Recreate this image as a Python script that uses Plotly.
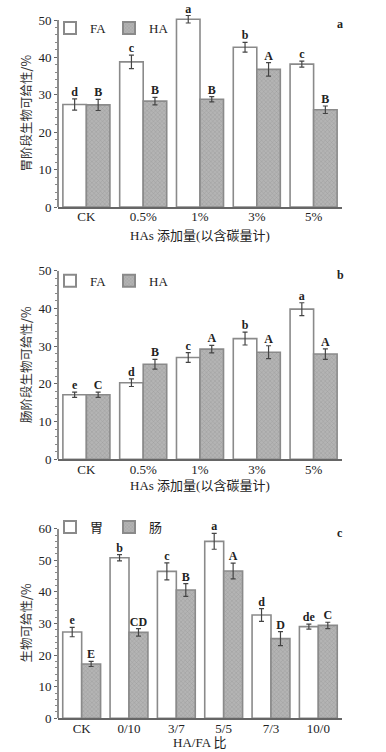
import plotly.graph_objects as go

# ---------------- data ----------------
cats_ab = ["CK", "0.5%", "1%", "3%", "5%"]
a_fa = [27.4, 38.8, 50.2, 42.7, 38.2]
a_fa_err = [1.5, 1.8, 1.0, 1.3, 0.8]
a_ha = [27.3, 28.3, 28.8, 36.8, 26.0]
a_ha_err = [1.5, 1.0, 0.7, 1.8, 1.0]
a_fa_lab = ["d", "c", "a", "b", "c"]
a_ha_lab = ["B", "B", "B", "A", "B"]

b_fa = [17.1, 20.3, 27.0, 32.0, 39.8]
b_fa_err = [0.7, 1.0, 1.3, 1.7, 1.7]
b_ha = [17.1, 25.2, 29.2, 28.4, 27.9]
b_ha_err = [0.7, 1.3, 1.0, 1.7, 1.4]
b_fa_lab = ["e", "d", "c", "b", "a"]
b_ha_lab = ["C", "B", "A", "A", "A"]

cats_c = ["CK", "0/10", "3/7", "5/5", "7/3", "10/0"]
c_st = [27.3, 50.8, 46.5, 56.0, 32.7, 29.0]
c_st_err = [1.5, 1.0, 2.7, 2.5, 2.0, 0.8]
c_in = [17.2, 27.2, 40.6, 46.6, 25.2, 29.4]
c_in_err = [0.8, 1.2, 2.0, 2.5, 2.2, 1.0]
c_st_lab = ["e", "b", "c", "a", "d", "de"]
c_in_lab = ["E", "CD", "B", "A", "D", "C"]

FONT = "Liberation Serif, Times New Roman, Noto Sans CJK SC, serif"
CJK = "Noto Sans CJK SC, Liberation Serif, sans-serif"

W, H = 386, 752
L, R = 58, 386 - 342
PW = W - L - R

# panel boxes in screen pixels (top of the last labelled tick, bottom = 0)
boxes = [(20, 207), (270.7, 459.3), (528.7, 718.3)]
legend_tops = [13, 265.7, 512]
xtitle_y = [235.5, 485, 742]


def py(screen_y):
    return 1 - screen_y / H


def px(screen_x):
    return (screen_x - L) / PW


fig = go.Figure()

panels = [
    dict(cats=cats_ab, v1=a_fa, e1=a_fa_err, v2=a_ha, e2=a_ha_err, l1=a_fa_lab, l2=a_ha_lab,
         n1="FA", n2="HA", ymax=50, ytop=53, w=0.414, ytitle="胃阶段生物可给性/%", xtitle="HAs 添加量(以含碳量计)", tag="a"),
    dict(cats=cats_ab, v1=b_fa, e1=b_fa_err, v2=b_ha, e2=b_ha_err, l1=b_fa_lab, l2=b_ha_lab,
         n1="FA", n2="HA", ymax=50, ytop=50, w=0.414, ytitle="肠阶段生物可给性/%", xtitle="HAs 添加量(以含碳量计)", tag="b"),
    dict(cats=cats_c, v1=c_st, e1=c_st_err, v2=c_in, e2=c_in_err, l1=c_st_lab, l2=c_in_lab,
         n1="胃", n2="肠", ymax=60, ytop=60, w=0.40, ytitle="生物可给性/%", xtitle="HA/FA 比", tag="c"),
]

annotations = []
shapes = []
for k, p in enumerate(panels):
    sfx = "" if k == 0 else str(k + 1)
    xa, ya = "x" + sfx, "y" + sfx
    leg = "legend" + sfx
    n = len(p["cats"])
    idx = list(range(n))
    w = p["w"]
    x1 = [i - w / 2 for i in idx]
    x2 = [i + w / 2 for i in idx]
    errstyle = dict(type="data", thickness=1.2, width=2.5, color="#444")
    fig.add_trace(go.Bar(
        x=x1, y=p["v1"], width=w, name=p["n1"], xaxis=xa, yaxis=ya, legend=leg, cliponaxis=False,
        marker=dict(color="white", line=dict(color="#8a8a8a", width=1.6)),
        error_y=dict(array=p["e1"], **errstyle)))
    fig.add_trace(go.Bar(
        x=x2, y=p["v2"], width=w, name=p["n2"], xaxis=xa, yaxis=ya, legend=leg, cliponaxis=False,
        marker=dict(color="#ababab", line=dict(color="#8a8a8a", width=1.6),
                    pattern=dict(shape="x", size=3, solidity=0.25, fgcolor="#9a9a9a", bgcolor="#b4b4b4")),
        error_y=dict(array=p["e2"], **errstyle)))
    for xs, vs, es, ls in ((x1, p["v1"], p["e1"], p["l1"]), (x2, p["v2"], p["e2"], p["l2"])):
        fig.add_trace(go.Scatter(
            x=xs, y=[v + e for v, e in zip(vs, es)], mode="text",
            text=["<b>" + l + "</b>" for l in ls], textposition="top center",
            textfont=dict(family=FONT, size=12, color="#222"),
            xaxis=xa, yaxis=ya, showlegend=False, cliponaxis=False, hoverinfo="skip"))
    top, bot = boxes[k]
    scale = (bot - top) / p["ymax"]
    top_ext = top - (p["ytop"] - p["ymax"]) * scale
    dom = [py(bot), py(top_ext)]
    xkey = "xaxis" + sfx
    ykey = "yaxis" + sfx
    fig.update_layout(**{
        xkey: dict(domain=[0, 1], range=[-0.5, n - 0.5], anchor=ya, automargin=False,
                   tickmode="array", tickvals=idx, ticktext=p["cats"],
                   showline=True, linecolor="#666", linewidth=1.5, ticks="",
                   ticklabelstandoff=-3,
                   showgrid=False, zeroline=False,
                   tickfont=dict(family=FONT, size=13, color="#222")),
        ykey: dict(domain=dom, range=[0, p["ytop"]], anchor=xa, automargin=False,
                   tickmode="array", tickvals=list(range(0, p["ymax"] + 1, 10)),
                   showline=False,
                   ticks="outside", ticklen=3, tickcolor="#666", tickwidth=1.2,
                   minor=dict(ticks="outside", ticklen=2, tickmode="array",
                              tickvals=list(range(0, p["ymax"] + 1, 2)), tickcolor="#888"),
                   showgrid=False, zeroline=False,
                   tickfont=dict(family=FONT, size=13, color="#222")),
        leg: dict(orientation="h", x=px(50), y=py(legend_tops[k]), xanchor="left", yanchor="top",
                  entrywidth=14, entrywidthmode="pixels", bgcolor="rgba(0,0,0,0)",
                  font=dict(family=FONT, size=13, color="#222"), itemsizing="constant"),
    })
    # y axis line from 0 to the last labelled tick
    shapes.append(dict(type="line", xref=xa + " domain", yref=ya, x0=0, x1=0, y0=0, y1=p["ymax"],
                       line=dict(color="#666", width=1.5)))
    # panel tag
    annotations.append(dict(x=px(340), y=py(top + 4), xref="paper", yref="paper", text="<b>" + p["tag"] + "</b>",
                            showarrow=False, xanchor="center", yanchor="middle",
                            font=dict(family=FONT, size=12, color="#222")))
    # x title
    annotations.append(dict(x=0.5, y=py(xtitle_y[k]), xref="paper", yref="paper", text=p["xtitle"],
                            showarrow=False, xanchor="center", yanchor="middle",
                            font=dict(family=FONT, size=13, color="#222")))
    # y title
    annotations.append(dict(x=px(25), y=py((top + bot) / 2), xref="paper", yref="paper", text=p["ytitle"],
                            textangle=-90, showarrow=False, xanchor="center", yanchor="middle",
                            font=dict(family=CJK, size=12.5, color="#333")))

fig.update_layout(width=W, height=H, margin=dict(l=L, r=R, t=0, b=0),
                  paper_bgcolor="white", plot_bgcolor="white", template="none",
                  barmode="overlay", annotations=annotations, shapes=shapes, showlegend=True)

fig.write_html("out.html", config={"displayModeBar": False},
               post_script="document.body.style.margin='0px';")
